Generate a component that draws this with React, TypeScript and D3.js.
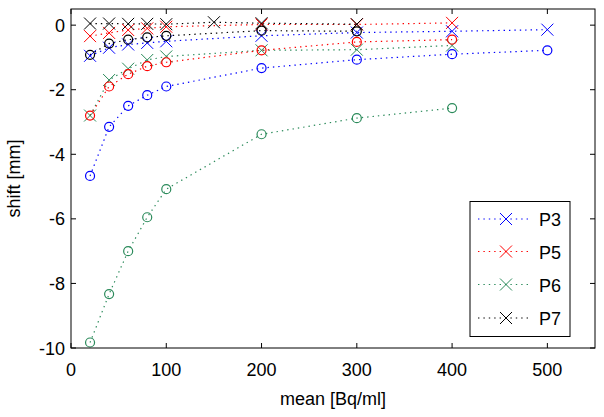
import React from "react";
import * as d3 from "d3";

const W = 604;
const H = 417;

const xTicks = [0, 100, 200, 300, 400, 500];
const yTicks = [0, -2, -4, -6, -8, -10];

const seriesNames = ["P3", "P5", "P6", "P7"];
const seriesColors = ["#0000ff", "#ff0000", "#2a8a5a", "#000000"];

// "x" marker series (shown in legend)
const p3xX = [20, 40, 60, 80, 100, 200, 300, 400, 500];
const p3xY = [-0.95, -0.7, -0.6, -0.55, -0.5, -0.33, -0.23, -0.19, -0.14];
const p5xX = [20, 40, 60, 80, 100, 200, 300, 400];
const p5xY = [-0.34, -0.24, -0.15, -0.1, -0.05, 0.02, 0.02, 0.07];
const p6xX = [20, 40, 60, 80, 100, 200, 300, 400];
const p6xY = [-2.8, -1.7, -1.35, -1.08, -0.97, -0.78, -0.76, -0.63];
const p7xX = [20, 40, 60, 80, 100, 150, 200, 300];
const p7xY = [0.05, 0.05, 0.04, 0.04, 0.03, 0.09, 0.06, 0.03];

// "o" marker series
const p3oX = [20, 40, 60, 80, 100, 200, 300, 400, 500];
const p3oY = [-4.67, -3.15, -2.5, -2.17, -1.9, -1.33, -1.07, -0.9, -0.78];
const p5oX = [20, 40, 60, 80, 100, 200, 300, 400];
const p5oY = [-2.8, -1.9, -1.52, -1.27, -1.15, -0.78, -0.52, -0.45];
const p6oX = [20, 40, 60, 80, 100, 200, 300, 400];
const p6oY = [-9.83, -8.33, -7.0, -5.95, -5.08, -3.38, -2.88, -2.57];
const p7oX = [20, 40, 60, 80, 100, 200, 300];
const p7oY = [-0.92, -0.57, -0.45, -0.38, -0.33, -0.17, -0.19];

const xSeries = [
  [p3xX, p3xY],
  [p5xX, p5xY],
  [p6xX, p6xY],
  [p7xX, p7xY],
];
const oSeries = [
  [p3oX, p3oY],
  [p5oX, p5oY],
  [p6oX, p6oY],
  [p7oX, p7oY],
];

const m = { left: 71, right: 595, top: 9, bottom: 348 };

export default function App() {
  const x = d3.scaleLinear().domain([0, 550]).range([m.left, m.right]);
  const y = d3.scaleLinear().domain([-10, 0.5]).range([m.bottom, m.top]);
  const line = d3
    .line<[number, number]>()
    .x((d) => x(d[0]))
    .y((d) => y(d[1]));

  const font = "'Liberation Sans', Arial, Helvetica, sans-serif";
  const fs = 18;
  const dash = "1.4 4";
  const xs = 6;
  const cr = 4.5;

  const xMark = (cx: number, cy: number, c: string, k: string) => (
    <path
      key={k}
      d={`M${cx - xs},${cy - xs}L${cx + xs},${cy + xs}M${cx - xs},${cy + xs}L${cx + xs},${cy - xs}`}
      stroke={c}
      strokeWidth={1}
      fill="none"
    />
  );

  const pts = (xa: number[], ya: number[]) =>
    xa.map((v, i) => [v, ya[i]] as [number, number]);

  const legTop = 201.5;
  const legRows = [219, 251.5, 284.5, 318];

  return (
    <div style={{ position: "absolute", left: 0, top: 0 }}>
      <svg width={W} height={H} style={{ display: "block", background: "#fff" }}>
        <rect x={0} y={0} width={W} height={H} fill="#fff" />
        {/* lines */}
        {xSeries.map(([xa, ya], i) => (
          <path
            key={"lx" + i}
            d={line(pts(xa, ya)) || ""}
            stroke={seriesColors[i]}
            strokeWidth={1.2}
            strokeDasharray={dash}
            fill="none"
          />
        ))}
        {oSeries.map(([xa, ya], i) => (
          <path
            key={"lo" + i}
            d={line(pts(xa, ya)) || ""}
            stroke={seriesColors[i]}
            strokeWidth={1.2}
            strokeDasharray={dash}
            fill="none"
          />
        ))}
        {/* markers */}
        {xSeries.map(([xa, ya], i) =>
          xa.map((v, j) => xMark(x(v), y(ya[j]), seriesColors[i], `mx${i}-${j}`))
        )}
        {oSeries.map(([xa, ya], i) =>
          xa.map((v, j) => (
            <circle
              key={`mo${i}-${j}`}
              cx={x(v)}
              cy={y(ya[j])}
              r={cr}
              stroke={seriesColors[i]}
              strokeWidth={1.2}
              fill="none"
            />
          ))
        )}
        {/* axes box */}
        <rect
          x={m.left}
          y={m.top}
          width={m.right - m.left}
          height={m.bottom - m.top}
          fill="none"
          stroke="#000"
          strokeWidth={1}
        />
        {xTicks.map((t) => (
          <g key={"xt" + t}>
            <line x1={x(t)} x2={x(t)} y1={m.bottom} y2={m.bottom - 5} stroke="#000" />
            <line x1={x(t)} x2={x(t)} y1={m.top} y2={m.top + 5} stroke="#000" />
            <text
              x={x(t)}
              y={376}
              textAnchor="middle"
              fontFamily={font}
              fontSize={fs}
              fill="#000"
            >
              {t}
            </text>
          </g>
        ))}
        {yTicks.map((t) => (
          <g key={"yt" + t}>
            <line x1={m.left} x2={m.left + 5} y1={y(t)} y2={y(t)} stroke="#000" />
            <line x1={m.right} x2={m.right - 5} y1={y(t)} y2={y(t)} stroke="#000" />
            <text
              x={65}
              y={y(t) + 6.5}
              textAnchor="end"
              fontFamily={font}
              fontSize={fs}
              fill="#000"
            >
              {t}
            </text>
          </g>
        ))}
        <text
          x={(m.left + m.right) / 2}
          y={405}
          textAnchor="middle"
          fontFamily={font}
          fontSize={fs}
          fill="#000"
        >
          mean [Bq/ml]
        </text>
        <text
          transform={`translate(20,${(m.top + m.bottom) / 2}) rotate(-90)`}
          textAnchor="middle"
          fontFamily={font}
          fontSize={fs}
          fill="#000"
        >
          shift [mm]
        </text>
        {/* legend */}
        <rect x={470} y={legTop} width={100} height={135} fill="#fff" stroke="#000" strokeWidth={1} />
        {seriesNames.map((n, i) => (
          <g key={"lg" + n}>
            <line
              x1={478}
              x2={530}
              y1={legRows[i]}
              y2={legRows[i]}
              stroke={seriesColors[i]}
              strokeWidth={1.2}
              strokeDasharray={dash}
            />
            {xMark(506, legRows[i], seriesColors[i], "lgm" + i)}
            <text
              x={539}
              y={legRows[i] + 7}
              fontFamily={font}
              fontSize={fs}
              fill="#000"
            >
              {n}
            </text>
          </g>
        ))}
      </svg>
    </div>
  );
}
